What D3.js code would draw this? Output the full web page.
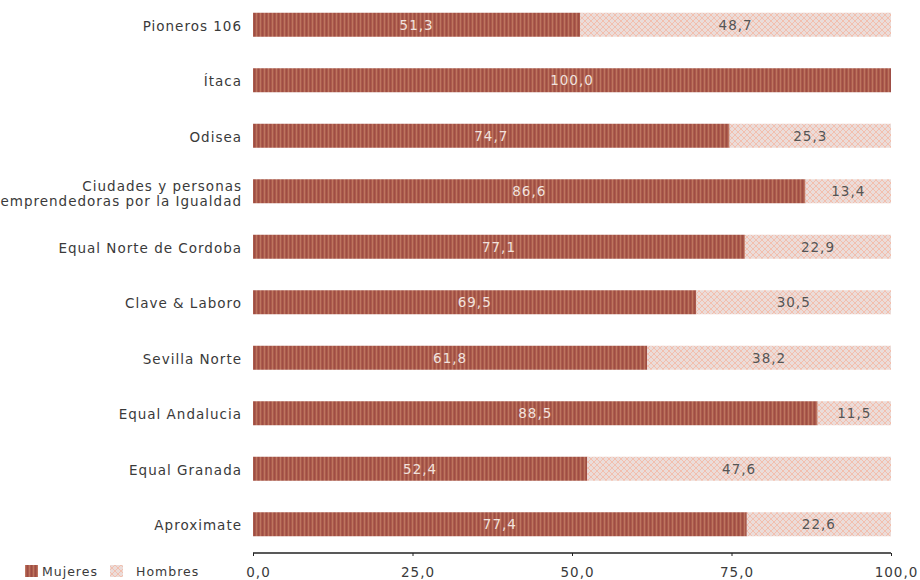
<!DOCTYPE html>
<html><head><meta charset="utf-8">
<script src="https://cdn.jsdelivr.net/npm/d3@7"></script>
<style>body{margin:0;background:#fff}svg{display:block}</style>
</head><body><svg id="c" width="920" height="580"></svg>
<script>
const categories = ["Pioneros 106","Ítaca","Odisea","Ciudades y personas\nemprendedoras por la Igualdad","Equal Norte de Cordoba","Clave & Laboro","Sevilla Norte","Equal Andalucia","Equal Granada","Aproximate"];
const mujeres = [51.3,100.0,74.7,86.6,77.1,69.5,61.8,88.5,52.4,77.4];
const hombres = [48.7,0,25.3,13.4,22.9,30.5,38.2,11.5,47.6,22.6];
const seriesNames = ["Mujeres","Hombres"];
const ticks = [0,25,50,75,100];

const svg = d3.select("#c");
const font = "DejaVu Sans";
const fs = 13.5, ls = "1px";
const defs = svg.append("defs");
const pm = defs.append("pattern").attr("id","pm").attr("patternUnits","userSpaceOnUse").attr("width",4).attr("height",6);
pm.append("rect").attr("width",4).attr("height",6).attr("fill","#ab5b4b");
pm.append("rect").attr("x",0).attr("width",1).attr("height",6).attr("fill","#bd7560");
pm.append("rect").attr("x",2).attr("width",1).attr("height",6).attr("fill","#9e4d45");
const ph = defs.append("pattern").attr("id","ph").attr("patternUnits","userSpaceOnUse").attr("width",6).attr("height",6);
ph.append("rect").attr("width",6).attr("height",6).attr("fill","#ebdcd9");
ph.append("path").attr("d","M0,0 L3,3 L0,6 M6,0 L3,3 L6,6").attr("stroke","#f2bfae").attr("stroke-width",1).attr("fill","none");

const x = d3.scaleLinear().domain([0,100]).range([253,891]);
const y = d3.scaleBand().domain(categories).range([-3,552]).paddingInner(0.5676).paddingOuter(0.2838);

const fmt = v => v.toFixed(1).replace(".",",");
const g = svg.append("g");
categories.forEach((c,i)=>{
  const y0 = y(c), h = y.bandwidth();
  g.append("rect").attr("x",x(0)).attr("y",y0).attr("width",x(mujeres[i])-x(0)).attr("height",h).attr("fill","url(#pm)");
  if (hombres[i]>0) g.append("rect").attr("x",x(mujeres[i])).attr("y",y0).attr("width",x(mujeres[i]+hombres[i])-x(mujeres[i])).attr("height",h).attr("fill","url(#ph)");
  g.append("text").attr("x",(x(0)+x(mujeres[i]))/2).attr("y",y0+h/2).attr("dy","0.38em").attr("text-anchor","middle")
    .attr("font-family",font).attr("font-size",fs).attr("letter-spacing",ls).attr("fill","#f1e2de").text(fmt(mujeres[i]));
  if (hombres[i]>0) g.append("text").attr("x",(x(mujeres[i])+x(mujeres[i]+hombres[i]))/2).attr("y",y0+h/2).attr("dy","0.38em").attr("text-anchor","middle")
    .attr("font-family",font).attr("font-size",fs).attr("letter-spacing",ls).attr("fill","#555").text(fmt(hombres[i]));
  const lines = c.split("\n");
  const t = g.append("text").attr("text-anchor","end").attr("font-family",font).attr("font-size",fs).attr("letter-spacing",ls).attr("fill","#3a3a3a");
  lines.forEach((l,k)=>{
    t.append("tspan").attr("x",242).attr("y",y0+h/2+(lines.length>1?3:1.5)+(k-(lines.length-1)/2)*15).attr("dy","0.35em").text(l);
  });
});

const axis = d3.axisBottom(x).tickValues(ticks).tickSize(3).tickFormat(fmt);
const ax = svg.append("g").attr("transform","translate(0,553)").call(axis);
ax.select(".domain").attr("stroke","#222").attr("stroke-width",1.5).attr("d","M253,0H891");
ax.selectAll(".tick line").attr("stroke","#222");
ax.selectAll(".tick text").attr("font-family",font).attr("font-size",fs).attr("letter-spacing",ls).attr("fill","#3a3a3a").attr("y",14).attr("dx",5);

const leg = svg.append("g").attr("transform","translate(25,565)");
seriesNames.forEach((s,i)=>{
  const lx = i===0?0:85;
  leg.append("rect").attr("x",lx).attr("y",0).attr("width",13).attr("height",12).attr("fill",i===0?"url(#pm)":"url(#ph)");
  leg.append("text").attr("x",lx+(i===0?17:26)).attr("y",6.5).attr("dy","0.35em").attr("font-family",font).attr("font-size",12.5).attr("letter-spacing",ls).attr("fill","#3a3a3a").text(s);
});
</script></body></html>
